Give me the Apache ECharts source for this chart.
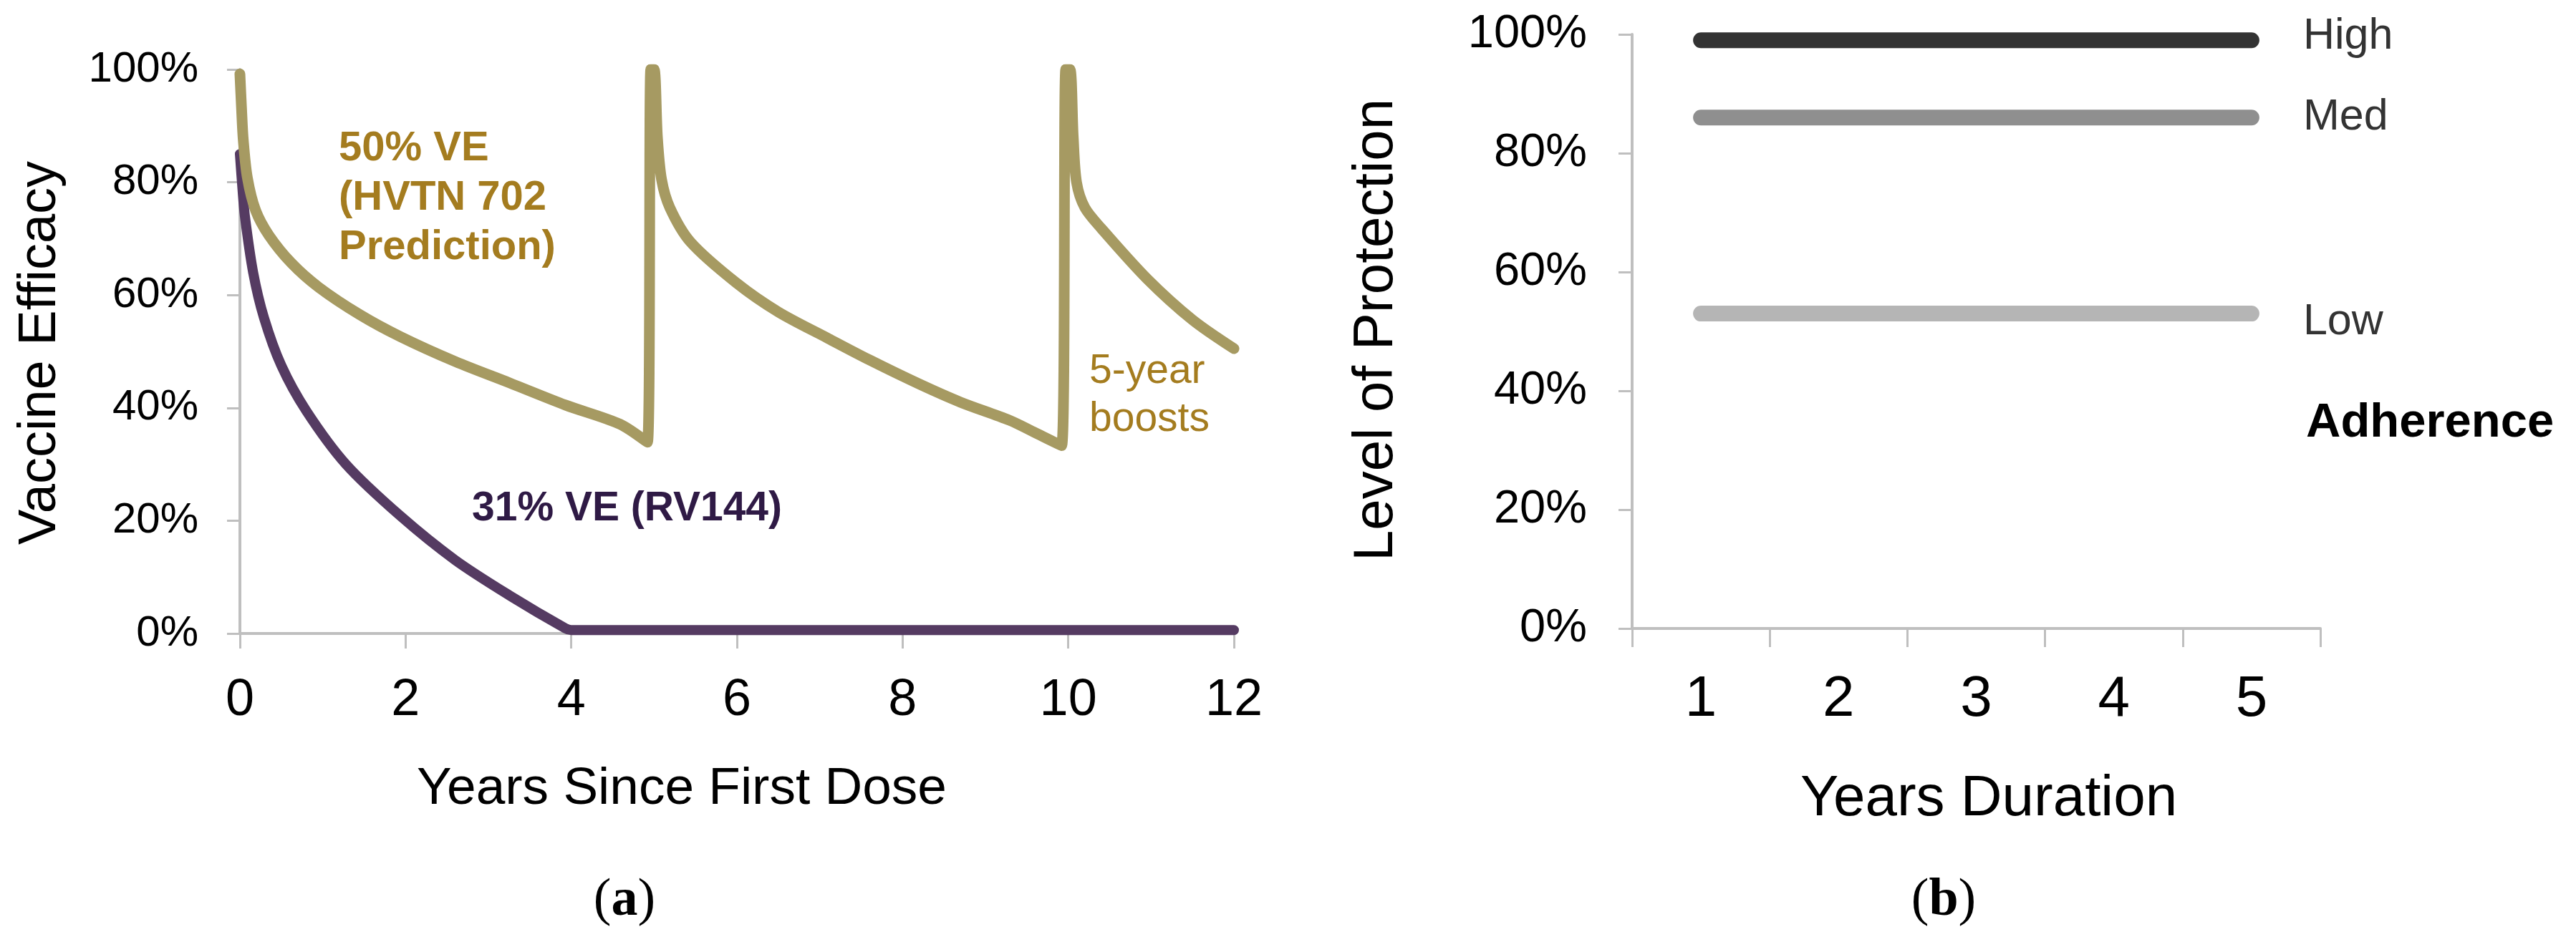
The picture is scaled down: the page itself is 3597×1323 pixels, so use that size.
<!DOCTYPE html>
<html>
<head>
<meta charset="utf-8">
<script src="https://cdn.jsdelivr.net/npm/echarts@6/dist/echarts.min.js"></script>
<style>
	html, body { margin: 0; padding: 0; background: #fff; }
	#main { width: 3597px; height: 1323px; }
</style>
</head>
<body>
<div id="main"></div>
<script>
	// (a) vaccine efficacy, [year, %]
	var hvtnData = [
		[0, 99.2], [0.02, 93], [0.04, 87.6], [0.09, 80.8], [0.19, 75], [0.35, 70.6], [0.62, 65.7],
		[0.95, 61.4], [1.45, 56.5], [1.94, 52.6], [2.6, 48.2], [3.26, 44.4], [3.93, 40.5], [4.59, 37.1],
		[4.92, 33.9],
		[4.96, 100], [5.0, 100], [5.04, 88], [5.09, 80.5], [5.19, 75.5], [5.44, 69.4], [5.99, 62.2],
		[6.5, 57], [7.09, 52.4], [7.6, 48.5], [8.19, 44.3], [8.7, 41], [9.29, 37.8], [9.6, 35.6],
		[9.92, 33.3],
		[9.97, 100], [10.02, 100], [10.06, 88], [10.1, 80], [10.2, 75.5], [10.4, 71.8], [10.95, 62.9],
		[11.5, 55.6], [12, 50.5]
	];
	var rv144Data = [
		[0, 85], [0.03, 79], [0.06, 74], [0.16, 64], [0.29, 56], [0.5, 47.5], [0.8, 39.5], [1.28, 30],
		[1.94, 20.8], [2.6, 13], [3.26, 6.7], [3.93, 0.9], [4.0, 0.6], [12, 0.6]
	];

	// (b) level of protection by adherence
	var durationCats = ["1", "2", "3", "4", "5"];
	var adherenceNames = ["High", "Med", "Low"];
	var highData = [99, 99, 99, 99, 99];
	var medData = [86, 86, 86, 86, 86];
	var lowData = [53, 53, 53, 53, 53];
	var adherenceColors = ["#333333", "#8f8f8f", "#b5b5b5"];

	var pctTicks = [0, 20, 40, 60, 80, 100];

	var sans = "Liberation Sans, Arial, sans-serif";
	var serif = "Liberation Serif, Times New Roman, serif";
	var axisGrey = "#bfbfbf";
	var gold = "#a69a62",
		goldText = "#a47c1f",
		purple = "#553b62",
		purpleText = "#2f1a45";

	function axisLineFn() {
		return { show: true, lineStyle: { color: axisGrey, width: 4 } };
	}

	function tickFn(len) {
		return { show: true, length: len, lineStyle: { color: axisGrey, width: 3 } };
	}

	function pctAxisFn(idx, size, margin, tickLen) {
		return {
			type: "value",
			gridIndex: idx,
			min: pctTicks[0],
			max: pctTicks[pctTicks.length - 1],
			interval: pctTicks[1] - pctTicks[0],
			axisLine: axisLineFn(),
			axisTick: tickFn(tickLen),
			splitLine: { show: false },
			axisLabel: {
				formatter: "{value}%",
				color: "#000",
				fontSize: size,
				fontFamily: sans,
				margin: margin
			}
		};
	}

	function adherenceSeries(name, data, color, dy) {
		return {
			name: name,
			type: "line",
			xAxisIndex: 1,
			yAxisIndex: 1,
			data: data,
			symbol: "none",
			lineStyle: { color: color, width: 22, cap: "round" },
			endLabel: {
				show: true,
				formatter: "{a}",
				distance: 72,
				offset: [0, dy],
				color: "#333",
				fontSize: 61,
				fontFamily: sans
			}
		};
	}

	var myChart = echarts.init(document.getElementById("main"), null, { renderer: "canvas" });

	var option = {
		animation: false,
		backgroundColor: "#fff",
		grid: [
			{ left: 335, right: 1874, top: 97, bottom: 438 },
			{ left: 2279, right: 357, top: 48, bottom: 445 }
		],
		xAxis: [{
			type: "value",
			gridIndex: 0,
			min: 0,
			max: 12,
			interval: 2,
			axisLine: axisLineFn(),
			axisTick: tickFn(21),
			splitLine: { show: false },
			axisLabel: { color: "#000", fontSize: 72, fontFamily: sans, margin: 58 }
		}, {
			type: "category",
			gridIndex: 1,
			data: durationCats,
			boundaryGap: true,
			axisLine: axisLineFn(),
			axisTick: tickFn(26),
			axisLabel: { color: "#000", fontSize: 80, fontFamily: sans, margin: 60 }
		}],
		yAxis: [
			pctAxisFn(0, 60, 58, 18),
			pctAxisFn(1, 65, 63, 19)
		],
		series: [{
			name: "31% VE (RV144)",
			type: "line",
			xAxisIndex: 0,
			yAxisIndex: 0,
			data: rv144Data,
			symbol: "none",
			smooth: 0.3,
			lineStyle: { color: purple, width: 14, join: "round", cap: "round" }
		}, {
			name: "50% VE (HVTN 702 Prediction)",
			type: "line",
			xAxisIndex: 0,
			yAxisIndex: 0,
			data: hvtnData,
			symbol: "none",
			smooth: 0.3,
			lineStyle: { color: gold, width: 15, join: "round", cap: "round" }
		},
			adherenceSeries(adherenceNames[0], highData, adherenceColors[0], -5),
			adherenceSeries(adherenceNames[1], medData, adherenceColors[1], 0),
			adherenceSeries(adherenceNames[2], lowData, adherenceColors[2], 12)
		],
		graphic: [{
			type: "text", x: 57, y: 493, rotation: Math.PI / 2,
			style: { text: "Vaccine Efficacy", fontSize: 74, fontFamily: sans, fill: "#000", align: "center", verticalAlign: "middle" }
		}, {
			type: "text", x: 952, y: 1103,
			style: { text: "Years Since First Dose", fontSize: 73, fontFamily: sans, fill: "#000", align: "center", verticalAlign: "middle" }
		}, {
			type: "text", x: 1922, y: 461, rotation: Math.PI / 2,
			style: { text: "Level of Protection", fontSize: 78, fontFamily: sans, fill: "#000", align: "center", verticalAlign: "middle" }
		}, {
			type: "text", x: 2777, y: 1117,
			style: { text: "Years Duration", fontSize: 80, fontFamily: sans, fill: "#000", align: "center", verticalAlign: "middle" }
		}, {
			type: "text", x: 473, y: 173,
			style: { text: "50% VE\n(HVTN 702\nPrediction)", fontSize: 58, fontWeight: "bold", lineHeight: 69, fontFamily: sans, fill: goldText, align: "left", verticalAlign: "top" }
		}, {
			type: "text", x: 1521, y: 486,
			style: { text: "5-year\nboosts", fontSize: 57, lineHeight: 67, fontFamily: sans, fill: goldText, align: "left", verticalAlign: "top" }
		}, {
			type: "text", x: 659, y: 711,
			style: { text: "31% VE (RV144)", fontSize: 57, fontWeight: "bold", fontFamily: sans, fill: purpleText, align: "left", verticalAlign: "middle" }
		}, {
			type: "text", x: 3220, y: 592,
			style: { text: "Adherence", fontSize: 67, fontWeight: "bold", fontFamily: sans, fill: "#000", align: "left", verticalAlign: "middle" }
		}, {
			type: "text", x: 872, y: 1259,
			style: {
				text: "{p|(}{b|a}{p|)}", align: "center", verticalAlign: "middle",
				rich: {
					p: { fontSize: 74, fontFamily: serif, fill: "#000" },
					b: { fontSize: 74, fontFamily: serif, fontWeight: "bold", fill: "#000" }
				}
			}
		}, {
			type: "text", x: 2714, y: 1259,
			style: {
				text: "{p|(}{b|b}{p|)}", align: "center", verticalAlign: "middle",
				rich: {
					p: { fontSize: 74, fontFamily: serif, fill: "#000" },
					b: { fontSize: 74, fontFamily: serif, fontWeight: "bold", fill: "#000" }
				}
			}
		}]
	};
	myChart.setOption(option);
</script>
</body>
</html>
